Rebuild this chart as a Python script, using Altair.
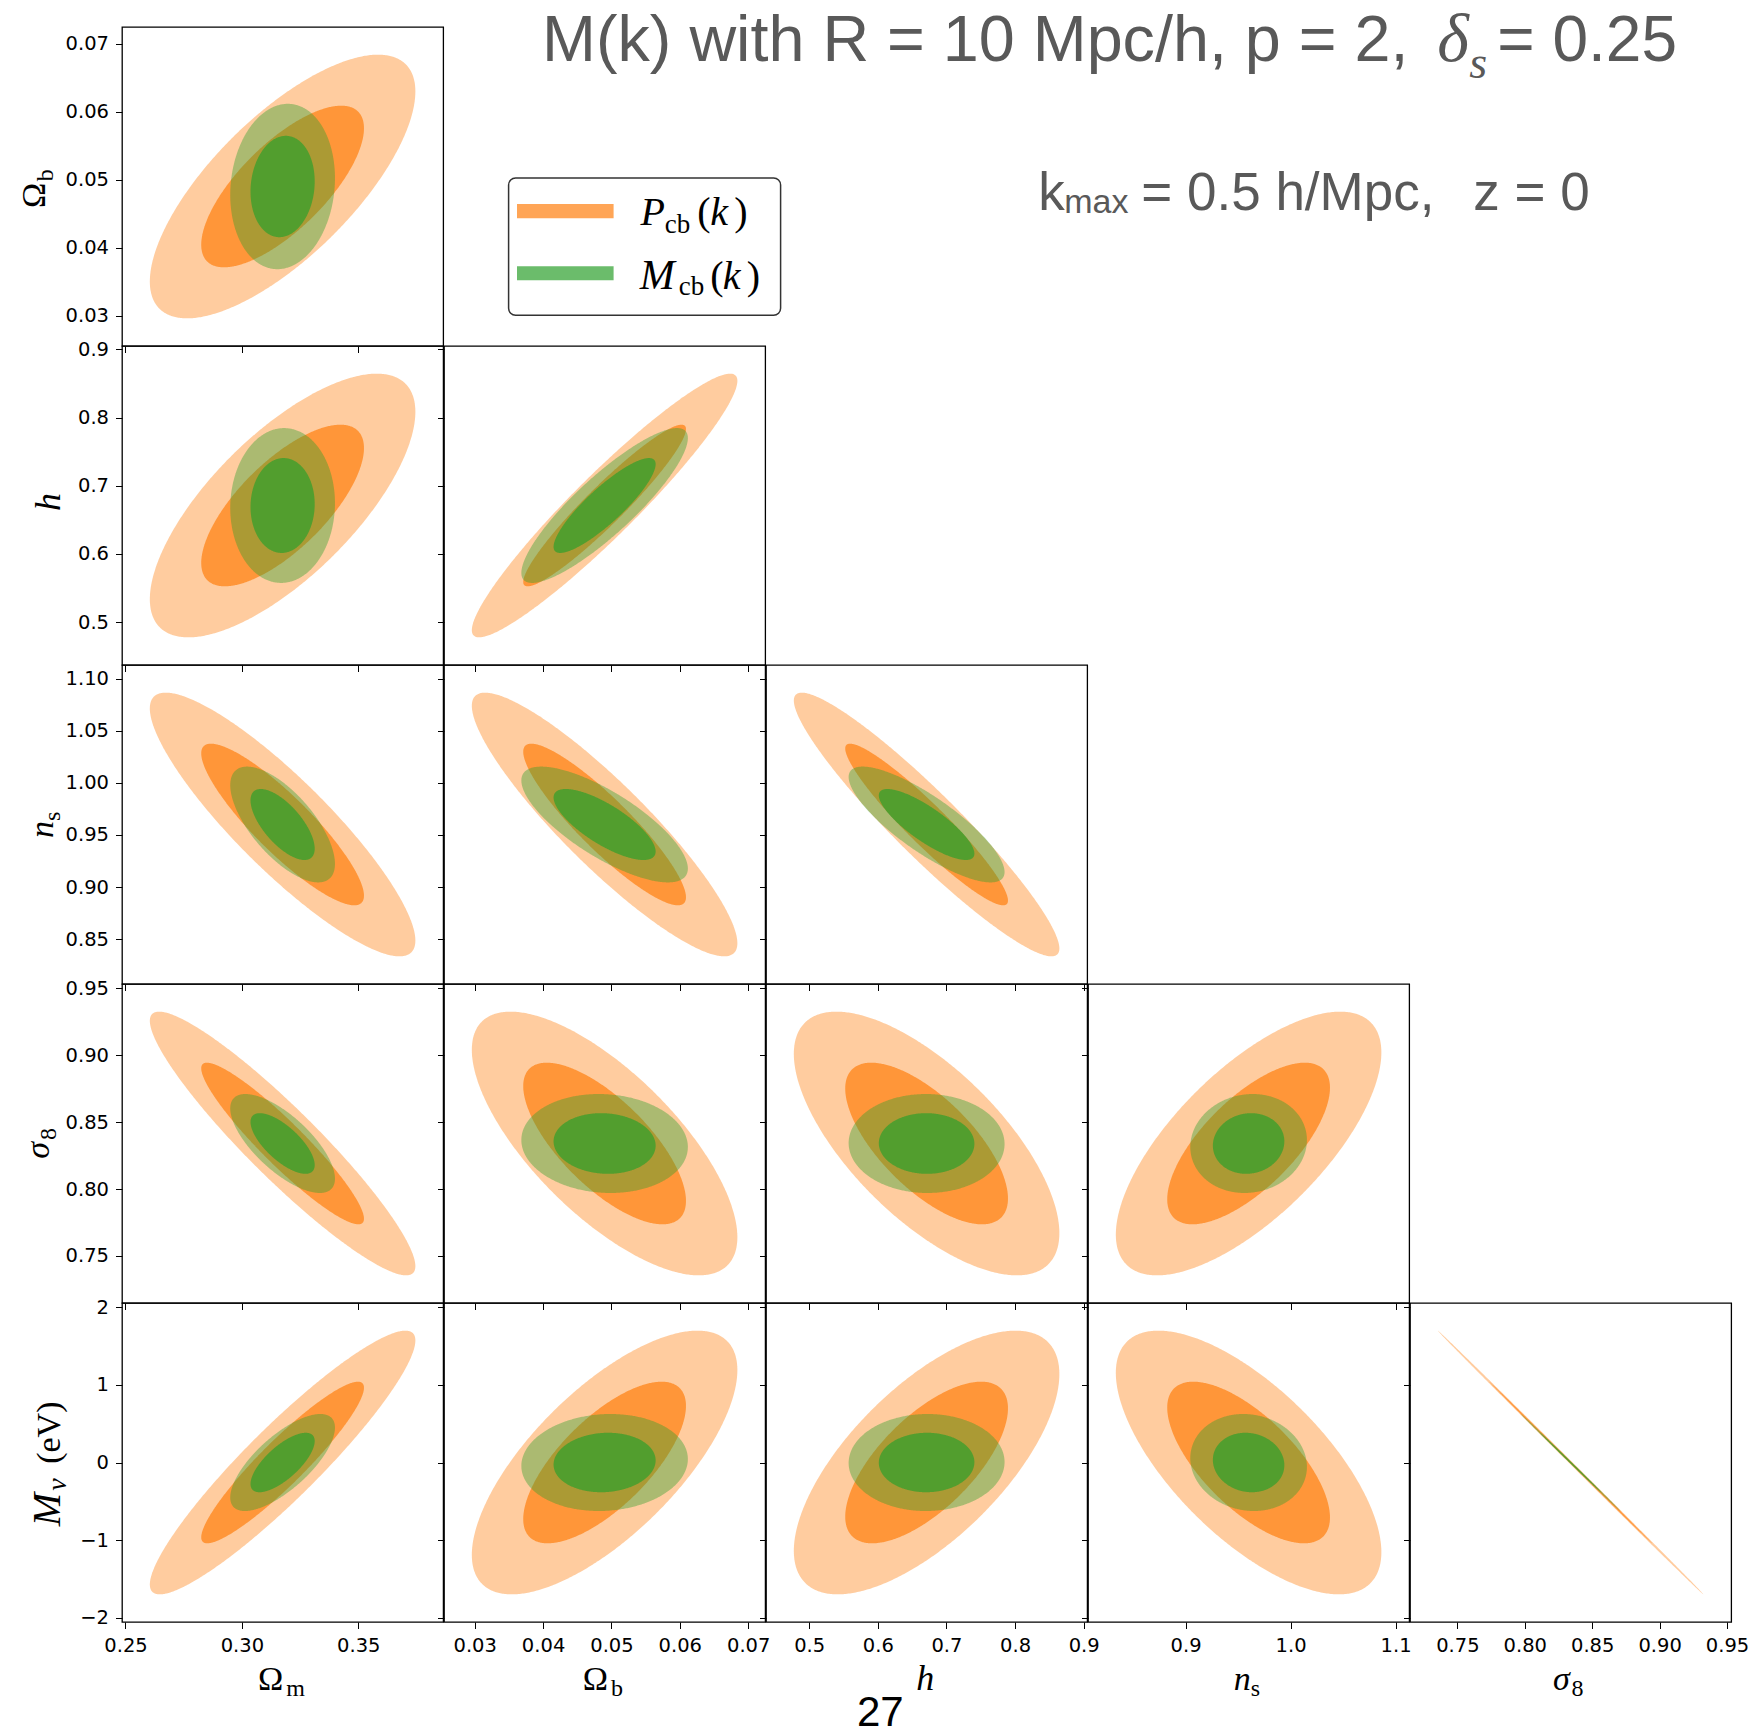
import numpy as np
import pandas as pd
import altair as alt

# Fisher forecast: fiducial cosmology and marginalised 1-sigma errors
PARAM_KEYS = ["Om", "Ob", "h", "ns", "s8", "Mnu"]
FIDUCIAL = [0.3175, 0.049, 0.6711, 0.960, 0.834, 0.0]
SIGMA_PCB = [0.0230, 0.00783, 0.0780, 0.0510, 0.0397, 0.685]
SIGMA_MCB = [0.00907, 0.00491, 0.0458, 0.0224, 0.0149, 0.252]

# correlation coefficient of each (x parameter, y parameter) pair
PAIRS = [("Om", "Ob"), ("Om", "h"), ("Ob", "h"), ("Om", "ns"), ("Ob", "ns"),
         ("h", "ns"), ("Om", "s8"), ("Ob", "s8"), ("h", "s8"), ("ns", "s8"),
         ("Om", "Mnu"), ("Ob", "Mnu"), ("h", "Mnu"), ("ns", "Mnu"), ("s8", "Mnu")]
RHO_PCB = [0.72, 0.71, 0.945, -0.88, -0.90, -0.94, -0.93, -0.71, -0.68, 0.69,
           0.925, 0.70, 0.67, -0.68, -0.99988]
RHO_MCB = [0.10, 0.03, 0.87, -0.68, -0.76, -0.82, -0.71, -0.07, -0.01, 0.07,
           0.72, 0.07, 0.01, -0.09, -0.9996]

# sqrt(delta chi^2) of the 95% and 68% two-parameter contours
CONTOUR_SCALE = [2.48, 1.52]
CONTOUR_OPACITY = [0.4, 0.7]

X_TICKS = {"Om": [0.25, 0.30, 0.35], "Ob": [0.03, 0.04, 0.05, 0.06, 0.07],
           "h": [0.5, 0.6, 0.7, 0.8, 0.9], "ns": [0.9, 1.0, 1.1],
           "s8": [0.75, 0.80, 0.85, 0.90, 0.95]}
Y_TICKS = {"Ob": [0.03, 0.04, 0.05, 0.06, 0.07], "h": [0.5, 0.6, 0.7, 0.8, 0.9],
           "ns": [0.85, 0.90, 0.95, 1.00, 1.05, 1.10],
           "s8": [0.75, 0.80, 0.85, 0.90, 0.95], "Mnu": [-2, -1, 0, 1, 2]}
X_FORMAT = {"Om": ".2f", "Ob": ".2f", "h": ".1f", "ns": ".1f", "s8": ".2f"}
Y_FORMAT = {"Ob": ".2f", "h": ".1f", "ns": ".2f", "s8": ".2f", "Mnu": "d"}

P_COLOR = "#ff7f0e"
M_COLOR = "#2ca02c"
SERIF = "Liberation Serif"
SANS = "Liberation Sans"
TITLE_GRAY = "#595959"

PANEL_W = 321.2
PANEL_H = 319.0
X0 = 120.7   # page position of the top-left panel
Y0 = 25.7

ONE = pd.DataFrame({"n": [0]})


def ellipse_band(i, j, sig, rho, scale, n=241):
    """Lower/upper edge of a confidence ellipse as a function of x."""
    t = np.linspace(np.pi, 0.0, n)
    u = np.cos(t)
    sx, sy = sig[i], sig[j]
    x = FIDUCIAL[i] + scale * sx * u
    mid = FIDUCIAL[j] + scale * sy * rho * u
    half = scale * sy * np.sqrt(1.0 - rho ** 2) * np.sin(t)
    return pd.DataFrame({"x": x, "lo": mid - half, "hi": mid + half})


def domain(i):
    return [FIDUCIAL[i] - 3 * SIGMA_PCB[i], FIDUCIAL[i] + 3 * SIGMA_PCB[i]]


def text(s, x, y, size, font=SERIF, style="normal", angle=0, align="left",
         color="black"):
    return alt.Chart(ONE).mark_text(
        text=s, font=font, fontSize=size, fontStyle=style, angle=angle,
        align=align, baseline="alphabetic", color=color,
    ).encode(x=alt.value(x - X0), y=alt.value(y - Y0))


def box(x1, x2, y1, y2, **kw):
    return alt.Chart(ONE).mark_rect(**kw).encode(
        x=alt.value(x1 - X0), x2=alt.value(x2 - X0),
        y=alt.value(y1 - Y0), y2=alt.value(y2 - Y0),
    )


def annotations():
    parts = []
    # keeps the page origin fixed at the top-left corner
    parts.append(box(0, 1, 0, 1, fill="white"))
    # title lines
    parts += [
        text("M(k) with R = 10 Mpc/h, p = 2,", 540.8, 60, 64.7, font=SANS, color=TITLE_GRAY),
        text("δ", 1436, 60, 68, style="italic", color=TITLE_GRAY),
        text("s", 1468, 77, 46, style="italic", color=TITLE_GRAY),
        text("= 0.25", 1496, 60, 64, font=SANS, color=TITLE_GRAY),
        text("k", 1037, 208.3, 53, font=SANS, color=TITLE_GRAY),
        text("max", 1063, 211.7, 34, font=SANS, color=TITLE_GRAY),
        text("= 0.5 h/Mpc,", 1140, 208.3, 53, font=SANS, color=TITLE_GRAY),
        text("z = 0", 1472, 208.3, 53, font=SANS, color=TITLE_GRAY),
    ]
    # legend
    parts += [
        box(507.3, 779.3, 176.7, 314, fill="white", stroke="#333333",
            strokeWidth=1.5, cornerRadius=7),
        box(515.7, 612.3, 202.7, 217, fill=P_COLOR, opacity=0.7),
        box(515.7, 612.3, 265, 279, fill=M_COLOR, opacity=0.7),
        text("P", 639.3, 224, 40, style="italic"),
        text("cb", 663.5, 232, 27),
        text("(", 696, 224, 40),
        text("k", 709, 224, 40, style="italic"),
        text(")", 733, 224, 40),
        text("M", 638.5, 287.3, 42, style="italic"),
        text("cb", 677.5, 294, 27),
        text("(", 709, 287.3, 40),
        text("k", 721.5, 287.3, 40, style="italic"),
        text(")", 745.5, 287.3, 40),
    ]
    # x-axis titles under the bottom row
    parts += [
        text("Ω", 256.7, 1688.3, 34), text("m", 285, 1695, 24),
        text("Ω", 581.5, 1688.3, 34), text("b", 609.8, 1695, 24),
        text("h", 924, 1688.3, 36, style="italic", align="center"),
        text("n", 1232.4, 1688.3, 34, style="italic"), text("s", 1249.4, 1695, 24),
        text("σ", 1551.6, 1688.3, 34, style="italic"), text("8", 1570.3, 1695, 24),
    ]
    # y-axis titles beside the first column (rotated, reading upwards)
    parts += [
        text("Ω", 43.3, 206.7, 34, angle=270), text("b", 51.7, 180, 24, angle=270),
        text("h", 58.3, 500.8, 36, style="italic", angle=270, align="center"),
        text("n", 52, 836.7, 34, style="italic", angle=270),
        text("s", 59, 819.7, 24, angle=270),
        text("σ", 48, 1157.4, 34, style="italic", angle=270),
        text("8", 55, 1138.7, 24, angle=270),
        text("M", 58.3, 1525, 40, style="italic", angle=270),
        text("ν", 65, 1489.5, 28, style="italic", angle=270),
        text("(eV)", 58.3, 1462.5, 34, angle=270),
    ]
    # page number
    parts.append(text("27", 879, 1724.5, 42, font=SANS, align="center"))
    return parts


def panel(r, c):
    i, j = c, r + 1
    px, py = PARAM_KEYS[i], PARAM_KEYS[j]
    k = PAIRS.index((px, py))
    x_axis = alt.Axis(values=X_TICKS[px], format=X_FORMAT[px], labels=(r == 4),
                      title=None)
    y_axis = alt.Axis(values=Y_TICKS[py], format=Y_FORMAT[py], labels=(c == 0),
                      title=None)
    x_enc = alt.X("x:Q", scale=alt.Scale(domain=domain(i), nice=False, zero=False),
                  axis=x_axis)
    y_enc = alt.Y("lo:Q", scale=alt.Scale(domain=domain(j), nice=False, zero=False),
                  axis=y_axis)
    layers = []
    for sig, rho, color in [(SIGMA_PCB, RHO_PCB[k], P_COLOR),
                            (SIGMA_MCB, RHO_MCB[k], M_COLOR)]:
        for scale, op in zip(CONTOUR_SCALE, CONTOUR_OPACITY):
            df = ellipse_band(i, j, sig, rho, scale)
            layers.append(
                alt.Chart(df).mark_area(color=color, opacity=op, clip=True)
                .encode(x=x_enc, y=y_enc, y2="hi")
            )
    if r == 0 and c == 0:
        layers += annotations()
    return alt.layer(*layers).properties(width=PANEL_W, height=PANEL_H)


def blank():
    return alt.Chart(ONE).mark_text(text="").encode(
        x=alt.value(0), y=alt.value(0)
    ).properties(width=PANEL_W, height=PANEL_H,
                 view=alt.ViewBackground(stroke="transparent"))


cells = []
for r in range(5):
    for c in range(5):
        cells.append(panel(r, c) if c <= r else blank())

chart = (
    alt.concat(*cells, columns=5, spacing=0, bounds="flush")
    .properties(padding=0, background="white")
    .configure_view(stroke="black", strokeWidth=1.3)
    .configure_axis(labelFont="DejaVu Sans", labelFontSize=19.5, labelColor="black",
                    tickColor="black", tickWidth=1, tickSize=6.5, domain=False,
                    grid=False, labelFlush=False, labelOverlap=False)
    .configure_axisX(labelPadding=8)
    .configure_axisY(labelPadding=7)
)

chart.save("out.html", embed_options={"renderer": "svg", "actions": False})
